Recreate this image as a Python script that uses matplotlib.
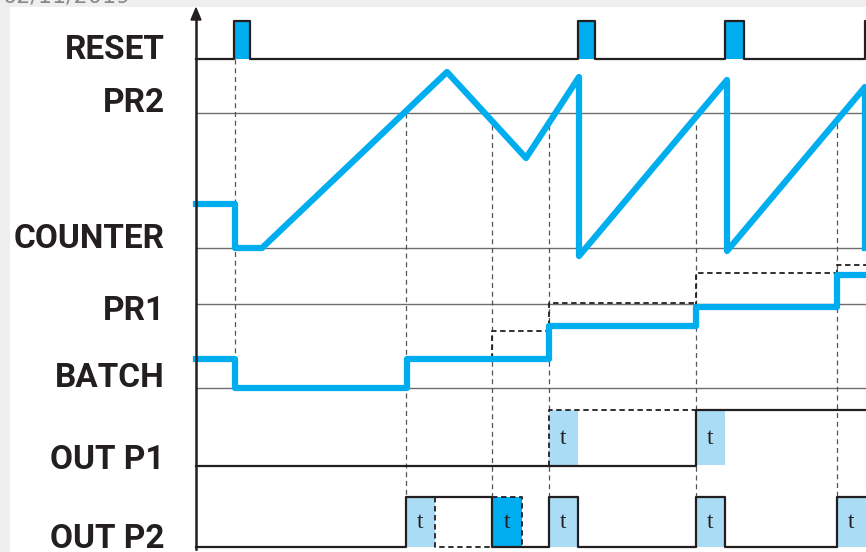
import matplotlib.pyplot as plt
from matplotlib.patches import Rectangle, Polygon

# signal names and where their label baselines sit
labels = ["RESET", "PR2", "COUNTER", "PR1", "BATCH", "OUT P1", "OUT P2"]
label_y = [59, 112, 248, 320, 387, 469, 548]

# thin reference levels (PR2, counter zero, PR1, batch zero)
ref_levels = [113, 248, 304, 388]

# RESET pulses (start, end)
reset_pulses = [(234, 250), (578, 595), (725, 744), (865, 885)]

# counter trace
counter_x = [196, 235, 235, 262, 447, 526, 579, 579, 727, 727, 865, 865]
counter_y = [204, 204, 248, 248, 72, 158, 77, 256, 80, 251, 87, 248]

# batch trace and preset steps
batch_x = [196, 235, 235, 407, 407, 549, 549, 696, 696, 837, 837, 866]
batch_y = [359, 359, 388, 388, 359, 359, 326, 326, 307, 307, 275, 275]
batch_dash = [
    ([492, 492, 546], [359, 331, 331]),
    ([549, 549, 696], [326, 303, 303]),
    ([696, 696, 837], [307, 273, 273]),
    ([837, 837, 866], [275, 265, 265]),
]

# vertical guide lines (x, top, bottom)
guides = [(235, 59, 388), (406, 113, 547), (492, 125, 547),
          (549, 125, 547), (696, 125, 547), (837, 115, 547)]

# OUT P1
p1_x = [196, 696, 696, 866]
p1_y = [466, 466, 410, 410]
p1_dash = ([549, 549, 696], [466, 410, 410])
p1_t = [(549, 578), (696, 725)]

# OUT P2
p2_x = [196, 406, 406, 492, 492, 549, 549, 578, 578, 696, 696, 725, 725, 837, 837, 866]
p2_y = [547, 547, 497, 497, 547, 547, 497, 497, 547, 547, 497, 497, 547, 547, 497, 497]
p2_dash = [([435, 435, 492], [497, 547, 547]), ([492, 522, 522], [497, 497, 547])]
p2_t = [(406, 435), (549, 578), (696, 725), (837, 866)]
p2_t_dark = [(492, 522)]

BLUE = "#00aeef"
LIGHT = "#aadcf5"
INK = "#231f20"
GREY = "#6d6d6d"

fig = plt.figure(figsize=(8.66, 5.52), dpi=100, facecolor="#efefef")
ax = fig.add_axes([0, 0, 1, 1])
ax.set_xlim(0, 866)
ax.set_ylim(552, 0)
ax.axis("off")

ax.add_patch(Rectangle((10, 7), 860, 550, facecolor="white", edgecolor="none", zorder=0))
ax.text(2, 2, "02/11/2019", fontsize=16, color="#888888", va="baseline", ha="left")

# axis with arrow
ax.plot([196, 196], [549, 18], color=INK, lw=1.8, zorder=5)
ax.add_patch(Polygon([(191, 20), (201, 20), (196, 8)], closed=True, color=INK, zorder=5))

for y in ref_levels:
    ax.plot([196, 866], [y, y], color=GREY, lw=1.0, zorder=1)

for x, y0, y1 in guides:
    ax.plot([x, x], [y0, y1], color="#555555", lw=0.9, ls=(0, (4, 3)), zorder=1)

# RESET
rx = [196]
ry = [59]
for a, b in reset_pulses:
    ax.add_patch(Rectangle((a, 21), b - a, 38, facecolor=BLUE, edgecolor="none", zorder=2))
    rx += [a, a, b, b]
    ry += [59, 21, 21, 59]
rx.append(900)
ry.append(59)
ax.plot(rx, ry, color=INK, lw=1.6, zorder=3)

ax.plot(counter_x, counter_y, color=BLUE, lw=4.5, zorder=4)

ax.plot(batch_x, batch_y, color=BLUE, lw=4.5, zorder=4)
for xs, ys in batch_dash:
    ax.plot(xs, ys, color=INK, lw=1.3, ls=(0, (3, 2)), zorder=3)

t_font = ["Liberation Serif", "DejaVu Serif"]

# OUT P1
for a, b in p1_t:
    ax.add_patch(Rectangle((a, 410), b - a, 55, facecolor=LIGHT, edgecolor="none", zorder=2))
    ax.text((a + b) / 2, 438, "t", fontsize=17, color=INK, ha="center", va="center",
            family=t_font, zorder=6)
ax.plot(p1_x, p1_y, color=INK, lw=1.6, zorder=3)
ax.plot(p1_dash[0], p1_dash[1], color=INK, lw=1.3, ls=(0, (3, 2)), zorder=3)

# OUT P2
for a, b in p2_t:
    ax.add_patch(Rectangle((a, 497), b - a, 50, facecolor=LIGHT, edgecolor="none", zorder=2))
    ax.text((a + b) / 2, 522, "t", fontsize=17, color=INK, ha="center", va="center",
            family=t_font, zorder=6)
for a, b in p2_t_dark:
    ax.add_patch(Rectangle((a, 497), b - a, 50, facecolor=BLUE, edgecolor="none", zorder=2))
    ax.text((a + b) / 2, 522, "t", fontsize=17, color=INK, ha="center", va="center",
            family=t_font, zorder=6)
ax.plot(p2_x, p2_y, color=INK, lw=1.6, zorder=3)
for xs, ys in p2_dash:
    ax.plot(xs, ys, color=INK, lw=1.3, ls=(0, (3, 2)), zorder=3)

for name, y in zip(labels, label_y):
    ax.text(165, y, name, fontsize=24, fontweight="bold", color=INK,
            family=["Roboto", "Liberation Sans", "DejaVu Sans"], ha="right", va="baseline")

fig.savefig("out.png", dpi=100, facecolor=fig.get_facecolor())
